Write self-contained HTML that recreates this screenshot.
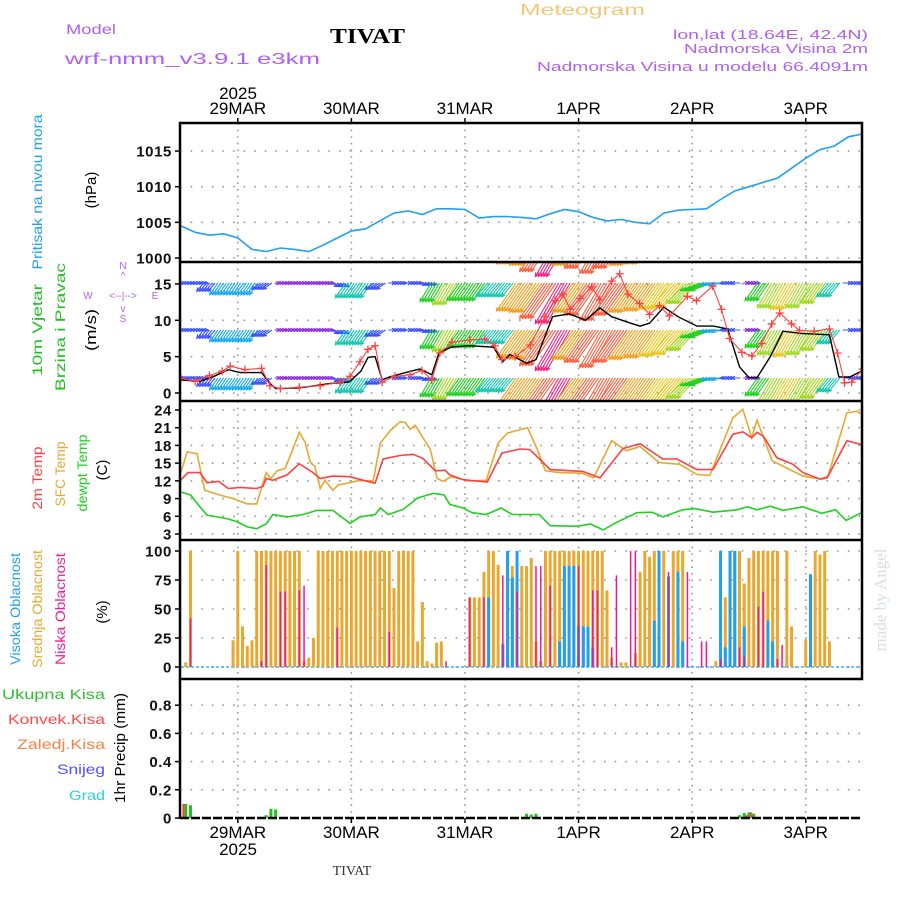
<!DOCTYPE html>
<html><head><meta charset="utf-8"><title>Meteogram TIVAT</title>
<style>
html,body{margin:0;padding:0;background:#fff;}
svg{display:block;font-family:"Liberation Sans",sans-serif;}
</style></head>
<body>
<svg id="chart" width="900" height="900" viewBox="0 0 900 900" xmlns="http://www.w3.org/2000/svg">
<defs>
<clipPath id="clipP"><rect x="180" y="123" width="682" height="139"/></clipPath>
<clipPath id="clipW"><rect x="180" y="262" width="682" height="139"/></clipPath>
<clipPath id="clipT"><rect x="180" y="401" width="682" height="139"/></clipPath>
</defs>
<rect x="0" y="0" width="900" height="900" fill="#fff"/>
<!-- header -->
<text x="520" y="15" font-size="16" fill="#f0c878" textLength="125" lengthAdjust="spacingAndGlyphs">Meteogram</text>
<text x="66" y="34" font-size="14" fill="#b060f0" textLength="50" lengthAdjust="spacingAndGlyphs">Model</text>
<text x="65" y="64" font-size="16" fill="#b060f0" textLength="255" lengthAdjust="spacingAndGlyphs">wrf-nmm_v3.9.1 e3km</text>
<text x="330" y="43" font-size="21" font-weight="bold" font-family="Liberation Serif, serif" fill="#000" textLength="75" lengthAdjust="spacingAndGlyphs">TIVAT</text>
<text x="868" y="39" font-size="13" fill="#b060f0" text-anchor="end" textLength="195" lengthAdjust="spacingAndGlyphs">lon,lat (18.64E, 42.4N)</text>
<text x="868" y="53" font-size="13" fill="#b060f0" text-anchor="end" textLength="184" lengthAdjust="spacingAndGlyphs">Nadmorska Visina 2m</text>
<text x="868" y="71" font-size="13" fill="#b060f0" text-anchor="end" textLength="331" lengthAdjust="spacingAndGlyphs">Nadmorska Visina u modelu 66.4091m</text>
<text x="238" y="99" font-size="17" fill="#000" text-anchor="middle">2025</text>
<text x="238" y="855" font-size="17" fill="#000" text-anchor="middle">2025</text>
<text x="352" y="875" font-size="14" font-family="Liberation Serif, serif" fill="#333" text-anchor="middle">TIVAT</text>
<text transform="translate(886,600) rotate(-90)" font-size="17" font-family="Liberation Serif, serif" fill="#d8e0d8" text-anchor="middle">made by Angel</text>

<!-- left labels -->
<text transform="translate(42,192) rotate(-90)" font-size="14" fill="#20a0f0" text-anchor="middle" textLength="155" lengthAdjust="spacingAndGlyphs">Pritisak na nivou mora</text>
<text transform="translate(96,190) rotate(-90)" font-size="15" fill="#000" text-anchor="middle">(hPa)</text>
<text transform="translate(42,330) rotate(-90)" font-size="14" fill="#20c020" text-anchor="middle" textLength="92" lengthAdjust="spacingAndGlyphs">10m Vjetar</text>
<text transform="translate(65,327) rotate(-90)" font-size="14" fill="#20c020" text-anchor="middle" textLength="128" lengthAdjust="spacingAndGlyphs">Brzina i Pravac</text>
<text transform="translate(96,330) rotate(-90)" font-size="15" fill="#000" text-anchor="middle" textLength="42" lengthAdjust="spacingAndGlyphs">(m/s)</text>
<g fill="#b060f0" font-size="10" text-anchor="middle">
<text x="123" y="269">N</text><text x="123" y="279">^</text>
<text x="88" y="299">W</text><text x="123" y="299">&lt;--|--&gt;</text><text x="155" y="299">E</text>
<text x="123" y="312">v</text><text x="123" y="322">S</text>
</g>
<text transform="translate(42,478) rotate(-90)" font-size="14" fill="#ff4040" text-anchor="middle" textLength="63" lengthAdjust="spacingAndGlyphs">2m Temp</text>
<text transform="translate(65,474) rotate(-90)" font-size="14" fill="#e8a830" text-anchor="middle" textLength="65" lengthAdjust="spacingAndGlyphs">SFC Temp</text>
<text transform="translate(87,473) rotate(-90)" font-size="14" fill="#20d020" text-anchor="middle" textLength="77" lengthAdjust="spacingAndGlyphs">dewpt Temp</text>
<text transform="translate(107,470) rotate(-90)" font-size="15" fill="#000" text-anchor="middle">(C)</text>
<text transform="translate(20,609) rotate(-90)" font-size="14" fill="#20a0f0" text-anchor="middle" textLength="112" lengthAdjust="spacingAndGlyphs">Visoka Oblacnost</text>
<text transform="translate(42,609) rotate(-90)" font-size="14" fill="#e8a830" text-anchor="middle" textLength="118" lengthAdjust="spacingAndGlyphs">Srednja Oblacnost</text>
<text transform="translate(65,609) rotate(-90)" font-size="14" fill="#f02090" text-anchor="middle" textLength="112" lengthAdjust="spacingAndGlyphs">Niska Oblacnost</text>
<text transform="translate(107,612) rotate(-90)" font-size="15" fill="#000" text-anchor="middle">(%)</text>
<g font-size="14" text-anchor="end">
<text x="105" y="699" fill="#30c030" textLength="103" lengthAdjust="spacingAndGlyphs">Ukupna Kisa</text>
<text x="105" y="724" fill="#ff4848" textLength="97" lengthAdjust="spacingAndGlyphs">Konvek.Kisa</text>
<text x="105" y="749" fill="#ff8040" textLength="88" lengthAdjust="spacingAndGlyphs">Zaledj.Kisa</text>
<text x="105" y="774" fill="#5050ff" textLength="48" lengthAdjust="spacingAndGlyphs">Snijeg</text>
<text x="105" y="800" fill="#30d0d0" textLength="36" lengthAdjust="spacingAndGlyphs">Grad</text>
</g>
<text transform="translate(125,748) rotate(-90)" font-size="15" fill="#000" text-anchor="middle" textLength="110" lengthAdjust="spacingAndGlyphs">1hr Precip (mm)</text>
<g id="grid"></g>
<g id="marks"></g>
<g id="frame"></g>
</svg>
<script>
// ---- data ----
const dayLabels = ['29MAR','30MAR','31MAR','1APR','2APR','3APR'];
const dayHours = [12,36,60,84,108,132];
const pTicks = [1000,1005,1010,1015];
const wTicks = [0,5,10,15];
const tTicks = [3,6,9,12,15,18,21,24];
const cTicks = [0,25,50,75,100];
const rTicks = [0,0.2,0.4,0.6,0.8];
const rTickLabels = ['0','0.2','0.4','0.6','0.8'];

const pressure = [1004.5,1003.6,1003.2,1003.4,1002.8,1001.2,1000.9,1001.4,1001.2,1000.9,1001.8,1002.8,1003.8,1004.1,1005.2,1006.3,1006.6,1006.1,1006.9,1006.9,1006.8,1005.6,1005.8,1005.8,1005.7,1005.5,1006.2,1006.8,1006.5,1005.7,1005.2,1005.4,1005.0,1004.8,1006.3,1006.7,1006.8,1006.9,1008.2,1009.4,1010.0,1010.6,1011.2,1012.6,1014.0,1015.2,1015.7,1017.0,1017.4];

const t2Hours = [0,1.5,4,5.5,8,10,12.5,16,17.3,18,19.4,22.4,25,27.7,29.4,32,35.7,38.5,41,42.7,46.3,49,51.1,53.7,55.8,56.8,59.6,64.7,67.8,71.6,73.7,76.5,78,84.9,88.5,93.4,97,101.8,104.8,109,112.4,116.6,118.7,120.6,121.7,123,125.9,129.3,131.4,135,136.5,140.7,144];
const t2Vals = [12.2,13.4,13.4,11.7,11.9,10.7,10.9,10.7,11.1,12.4,12.1,13.0,14.9,13.5,12.4,12.8,12.7,12.1,11.6,15.7,16.3,16.5,15.8,13.7,13.8,13.0,12.2,11.8,16.7,17.4,17.3,15.1,13.9,13.6,12.5,17.5,18.3,15.7,15.7,13.9,13.9,19.9,20.3,19.3,20.2,19.6,15.9,14.8,13.4,12.3,12.5,18.8,18.1];
const sfcHours = [0,1.3,3.4,5,8.2,11,14,16,18,19,20.3,22,23,25,26.2,27.3,28.3,29.4,30.4,32.1,33.2,35.7,37.8,40.6,42.1,44.3,46.3,47.4,48.4,49.5,52.7,54.1,55.4,56.8,57.5,61,64.5,67,69,73.2,75.3,77,80,84.7,87.2,91,94.1,97,101,105.3,109,111.7,116.6,118.7,120.6,121.7,124.9,127.2,131.4,135,136.7,140.7,142.8,144];
const sfcVals = [13.5,16.9,16.6,10.4,9.6,9.0,8.1,8.1,13.4,12.4,13.7,14.1,16.1,20.2,18.6,15.2,14.4,10.7,12.1,10.4,11.3,11.7,12.1,12.0,18.4,20.6,22.0,21.9,20.7,21.4,17.3,12.4,11.9,12.6,12.6,12.0,12.1,18.4,20.1,21.0,17.3,13.7,13.4,13.3,12.5,18.8,17.1,17.8,15.1,14.8,13.1,12.9,22.7,24.1,19.3,22.3,15.4,14.5,12.8,12.3,12.8,23.5,23.8,23.2];
const dewHours = [0,2,4,5.5,7.6,9.7,11.8,14,16,18,19.4,22.4,25.8,28.7,32.1,35.7,37.8,41,42.1,43.8,47,50,52.1,53.4,55.6,56.8,59.6,61.5,64.5,67.6,70,73.5,75.7,78,83.7,86.5,89.2,92.1,96.3,99.5,101.8,106,108.6,112.4,117.5,119.6,121.7,124.5,127.2,131.4,135.4,138.3,140.5,144];
const dewVals = [10.1,9.6,7.6,6.2,5.9,5.6,5.1,4.2,3.9,4.7,6.3,5.9,6.3,7.0,7.0,4.8,5.9,6.3,7.4,6.3,7.2,9.1,9.6,9.9,9.6,8.0,7.4,6.6,6.3,7.4,6.3,6.3,6.3,4.4,4.3,4.7,3.7,5.0,6.6,6.7,5.9,7.1,7.3,6.7,7.1,7.6,7.1,7.7,7.0,7.6,6.5,7.1,5.3,6.7];

const windHours = [0,4,7,10,12.5,17,19,20,25,31.5,35.5,38,39.5,41,42.5,44,48.5,50.5,53,54.5,57,61,66,68,69.5,73,75,78.5,82,85.5,88.5,91,95,97,99,102,105,109,112.5,115.5,118,120,121.7,124.5,127.2,131,137,139,141.3,144];
const windSpeed = [1.8,1.6,2.3,3.2,2.8,2.8,1.2,0.6,0.7,1.3,1.5,3.0,4.9,5.0,1.8,2.2,3.0,3.3,2.5,5.5,6.3,6.5,6.3,4.3,5.3,4.1,4.6,10.5,10.9,10.0,11.7,10.5,9.6,9.2,9.6,11.8,10.5,9.2,9.2,8.8,3.6,2.1,2.1,5.0,8.5,8.2,8.0,2.2,2.2,3.1];
const gustHours = [0,3,6,8.7,10.4,13.5,17,18.8,21,25,29.4,33.6,35.7,37.8,39.5,41,42.5,45.2,48.4,50.9,53,54.7,57.3,61,64.2,66.3,67.8,70.6,73.8,76.9,79,80.7,82.2,84.3,86.8,88.5,91,92.7,94.4,96.9,99,101.1,103.2,107,108.9,112.3,114.2,115.9,118.5,120.6,122.7,124.8,126.5,129,130.7,133.8,137,138.7,140.2,141.7,144];
const gustSpeed = [2.0,1.6,2.4,3.0,3.7,3.2,3.4,1.0,0.6,0.8,1.0,1.5,2.3,4.3,6.0,6.5,1.5,2.3,2.5,3.1,1.8,5.5,7.0,7.3,7.4,6.5,4.6,5.0,6.6,10.5,12.7,13.6,11.5,13.0,14.6,12.8,15.4,16.4,13.6,12.3,10.8,12.0,10.6,13.3,12.7,14.7,11.5,7.5,5.6,5.1,6.8,9.5,11.0,9.5,8.6,8.5,8.8,5.5,1.4,1.5,3.3];

// wind arrows every 3 hours
const barbSpeed = [2,2,3,4,4,4,3,1.5,1.5,1.5,1.5,2,5,5,3,2,2.5,2.5,6,7,6,6,5,5,9.5,10,12,13,10,11,12,11,10,9.5,9,9,8,6,4,2.5,1.5,6,8,8.5,8,7,5,2.5,3];
const barbDir = [90,90,220,215,215,215,235,90,90,90,90,120,215,215,235,90,90,100,210,210,215,215,220,220,215,215,215,210,215,215,210,215,215,215,215,220,225,250,265,270,90,215,210,210,210,215,220,90,90];

const midHours = [1,2,11,12,13,14,15,16,17,18,19,20,21,22,23,24,25,26,27,28,29,30,31,32,33,34,35,36,37,38,39,40,41,42,43,44,45,46,47,48,49,50,51,52,53,54,55,61,62,63,64,65,66,67,69,70,71,72,73,74,75,76,77,78,79,80,81,82,83,84,85,86,87,88,89,90,91,93,94,96,97,98,99,100,101,102,104,105,106,113,114,115,116,117,118,119,120,121,122,123,124,125,126,128,129,132,133,134,135,136,137];
const midVals = [4,100,23,100,35,18,23,100,100,100,100,100,100,100,100,100,100,5,8,25,100,100,100,100,100,100,100,100,100,100,100,100,100,100,100,100,68,100,100,100,100,22,56,5,3,21,22,60,60,60,82,100,100,88,95,87,87,87,87,94,22,5,100,100,100,100,100,100,100,100,100,100,100,100,100,66,8,4,4,12,82,100,95,100,100,100,100,100,100,5,23,60,100,100,100,72,94,100,100,100,100,100,100,100,35,23,8,100,97,100,22];
const highHours = [65,68,69,70,71,80,81,82,83,84,85,86,87,100,101,103,105,106,114,115,116,117,119,124,125,133];
const highVals = [60,20,100,77,100,22,87,87,87,35,35,35,17,40,100,78,82,22,100,17,100,100,35,40,22,80];
const lowHours = [2,17,18,21,22,25,26,33,44,56,61,64,68,71,75,76,78,84,87,88,91,92,95,96,103,107,110,111,114,118,119,122,123,126,127];
const lowVals = [42,5,88,65,65,66,70,34,30,5,60,60,79,65,87,87,70,87,66,66,17,79,100,100,82,82,22,22,7,17,9,52,65,7,19];

const precipHours = [1,2,18,19,20,73,74,75,83,118,119,120,121];
const precipVals = [0.1,0.09,0.02,0.065,0.06,0.03,0.025,0.03,0.01,0.02,0.035,0.04,0.03];
const convHours = [0.5,119.5,120.5];
const convVals = [0.1,0.02,0.04];

// ---- axes ----
const NS = 'http://www.w3.org/2000/svg';
const X = h => 181 + h * 4.733;
const yP = v => 258 - (v - 1000) * 7.13;
const yW = v => 393 - v * 7.27;
const yT = v => 534 - (v - 3) * 5.905;
const yC = v => 667 - v * 1.16;
const yR = v => 818 - v * 141;

const grid = document.getElementById('grid');
const marks = document.getElementById('marks');
const frame = document.getElementById('frame');
function mk(tag, parent) { const e = document.createElementNS(NS, tag); parent.appendChild(e); return e; }
function attrs(e, o) { for (const k in o) e.setAttribute(k, o[k]); return e; }

const panels = [
  {top:123, bot:262, ticks:pTicks, y:yP, labels:pTicks.map(String), name:'pressure'},
  {top:262, bot:401, ticks:wTicks, y:yW, labels:wTicks.map(String), name:'wind'},
  {top:401, bot:540, ticks:tTicks, y:yT, labels:tTicks.map(String), name:'temp'},
  {top:540, bot:679, ticks:cTicks, y:yC, labels:cTicks.map(String), name:'cloud'},
  {top:679, bot:818, ticks:rTicks, y:yR, labels:rTickLabels, name:'precip'}
];
panels.forEach(p => {
  dayHours.forEach(h => {
    const l = mk('line', grid);
    attrs(l, {x1:X(h), x2:X(h), y1:p.top, y2:p.bot, stroke:'#999', 'stroke-width':1.6, 'stroke-dasharray':'1.6 5'});
    
    
  });
  p.ticks.forEach((v, i) => {
    const yy = p.y(v);
    if (!(p.name === 'precip' && v === 0)) {
      const g = mk('line', grid);
      attrs(g, {x1:180, x2:862, y1:yy, y2:yy, stroke:'#999', 'stroke-width':1.6, 'stroke-dasharray':'1.6 9'});
      
      
    }
    const tk = mk('line', frame);
    attrs(tk, {x1:175, x2:180, y1:yy, y2:yy, stroke:'#000', 'stroke-width':1.5});
    
    
    const t = mk('text', frame);
    attrs(t, {x:172, y:yy + 5.5, 'text-anchor':'end', 'font-size':15, 'font-weight':'bold', fill:'#111', 'letter-spacing':0.6});
    t.textContent = p.labels[i];
    
    
  });
});

dayLabels.forEach((lab, i) => {
  const x = X(dayHours[i]);
  [[114, 118, 123], [838, 818, 823]].forEach((cfg, j) => {
    const t = mk('text', frame);
    attrs(t, {x:x, y:cfg[0], 'text-anchor':'middle', 'font-size':17, fill:'#000'});
    t.textContent = lab;
    
    
    const tk = mk('line', frame);
    attrs(tk, {x1:x, x2:x, y1:cfg[1], y2:cfg[2], stroke:'#000', 'stroke-width':1.5});
    
    
  });
});

const fr = mk('rect', frame);
attrs(fr, {x:180, y:123, width:682, height:556, fill:'none', stroke:'#000', 'stroke-width':2.5});


[262, 401, 540].forEach(y => {
  const l = mk('line', frame);
  attrs(l, {x1:180, x2:862, y1:y, y2:y, stroke:'#000', 'stroke-width':2.5});
  
  
});
const pl = mk('line', frame);
attrs(pl, {x1:180, x2:180, y1:679, y2:819, stroke:'#000', 'stroke-width':2.5});


const pb = mk('line', frame);
attrs(pb, {x1:180, x2:862, y1:818, y2:818, stroke:'#000', 'stroke-width':2.5, 'stroke-dasharray':'9 2'});



function linePath(hours, vals, yf) {
  return hours.map((h, i) => (i ? 'L' : 'M') + X(h).toFixed(1) + ' ' + yf(vals[i]).toFixed(1)).join(' ');
}

const pH = pressure.map((v, i) => i * 3);
const pp = mk('path', marks);
attrs(pp, {d:linePath(pH, pressure, yP), fill:'none', stroke:'#20a0f0', 'stroke-width':1.6, 'clip-path':'url(#clipP)'});



function windColor(s) {
  if (s < 2) return '#8a2be2';
  if (s < 3.5) return '#3a50ff';
  if (s < 4.5) return '#18a8f0';
  if (s < 5.5) return '#10c8b0';
  if (s < 7) return '#20d020';
  if (s < 8.5) return '#a0d820';
  if (s < 9.2) return '#e8c820';
  if (s < 10.5) return '#f0a020';
  if (s < 12.5) return '#f86040';
  return '#f02080';
}
const wg = mk('g', marks);
wg.setAttribute('clip-path', 'url(#clipW)');


const levels = [236, 283, 330, 378];
levels.forEach(by => {
  barbSpeed.forEach((s, k) => {
    const h = k * 3;
    const rad = barbDir[k] * Math.PI / 180;
    const L = s * 3.6;
    const col = windColor(s);
    [-1.2, -0.6, 0, 0.6, 1.2].forEach(o => {
      const x0 = X(h + o), y0 = by;
      const x1 = x0 + L * Math.sin(rad), y1 = y0 - L * Math.cos(rad);
      const a = mk('path', wg);
      const back = rad + Math.PI;
      const ha = 0.45, hl = 4;
      const hx1 = x1 + hl * Math.sin(back + ha), hy1 = y1 - hl * Math.cos(back + ha);
      const hx2 = x1 + hl * Math.sin(back - ha), hy2 = y1 - hl * Math.cos(back - ha);
      attrs(a, {d:`M${x0.toFixed(1)} ${y0} L${x1.toFixed(1)} ${y1.toFixed(1)} M${hx1.toFixed(1)} ${hy1.toFixed(1)} L${x1.toFixed(1)} ${y1.toFixed(1)} L${hx2.toFixed(1)} ${hy2.toFixed(1)}`, stroke:col, 'stroke-width':1.1, fill:'none'});
      
      
    });
  });
});

const ws = mk('path', marks);
attrs(ws, {d:linePath(windHours, windSpeed, yW), fill:'none', stroke:'#000', 'stroke-width':1.4, 'clip-path':'url(#clipW)'});


const gl = mk('path', marks);
attrs(gl, {d:linePath(gustHours, gustSpeed, yW), fill:'none', stroke:'#ff4040', 'stroke-width':1.1, 'clip-path':'url(#clipW)'});


gustHours.forEach((h, i) => {
  const x = X(h), y = yW(gustSpeed[i]);
  const m = mk('path', marks);
  attrs(m, {d:`M${x-4} ${y} L${x+4} ${y} M${x} ${y-4} L${x} ${y+4}`, stroke:'#ff4040', 'stroke-width':1.3, 'clip-path':'url(#clipW)'});
  
  
});

[[dewHours, dewVals, '#20d020', 'dewpoint-line'], [sfcHours, sfcVals, '#e8a830', 'sfc-temp-line'], [t2Hours, t2Vals, '#ff4040', 'temp-2m-line']].forEach(s => {
  const p = mk('path', marks);
  attrs(p, {d:linePath(s[0], s[1], yT), fill:'none', stroke:s[2], 'stroke-width':1.6, 'clip-path':'url(#clipT)'});
  
  
});

const base = mk('line', marks);
attrs(base, {x1:181, x2:862, y1:667, y2:667, stroke:'#20a0f0', 'stroke-width':1.2, 'stroke-dasharray':'3 2'});


[[midHours, midVals, '#e8a830', 3, 'mid-cloud-bar'], [highHours, highVals, '#20a0f0', 3, 'high-cloud-bar'], [lowHours, lowVals, '#f01890', 1.5, 'low-cloud-bar']].forEach(s => {
  s[0].forEach((h, i) => {
    const v = s[1][i];
    const r = mk('rect', marks);
    attrs(r, {x:X(h) - s[3] / 2, y:yC(v), width:s[3], height:Math.max(0, 667 - yC(v)), fill:s[2]});
    
    
  });
});

precipHours.forEach((h, i) => {
  const r = mk('rect', marks);
  const y = yR(precipVals[i]);
  attrs(r, {x:X(h) - 1.5, y:y, width:3, height:818 - y, fill:'#20c020'});
  
  
});
convHours.forEach((h, i) => {
  const r = mk('rect', marks);
  const y = yR(convVals[i]);
  attrs(r, {x:X(h) - 1, y:y, width:2, height:818 - y, fill:'#ff4040'});
  
  
});
</script>
</body></html>
